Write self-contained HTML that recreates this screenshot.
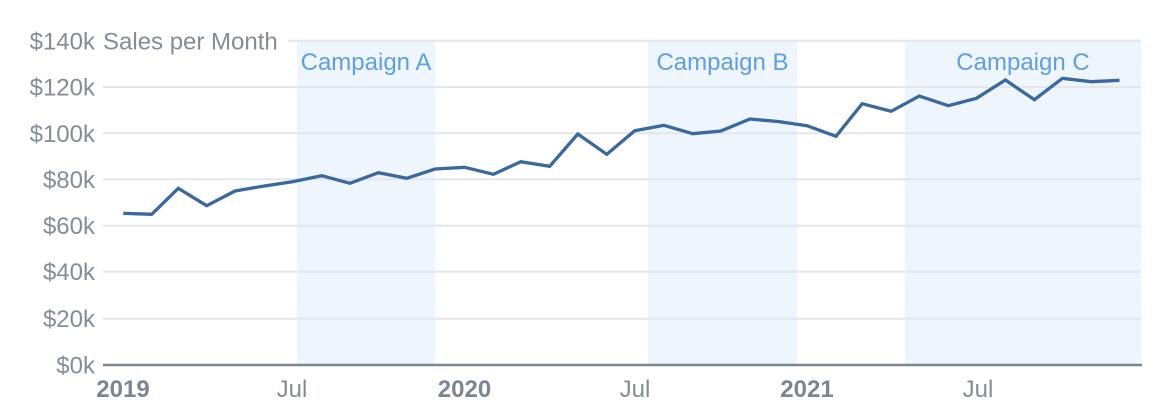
<!DOCTYPE html>
<html>
<head>
<meta charset="utf-8">
<style>
  html, body { margin: 0; padding: 0; background: #ffffff; }
  body { width: 1156px; height: 418px; overflow: hidden; }
  svg { display: block; }
  text { font-family: "Liberation Sans", Arial, sans-serif; }
</style>
</head>
<body>
<svg width="1156" height="418" viewBox="0 0 1156 418" xmlns="http://www.w3.org/2000/svg">
  <!-- campaign bands -->
  <rect x="297" y="41" width="138" height="324" fill="#eef5fc"/>
  <rect x="648" y="41" width="149" height="324" fill="#eef5fc"/>
  <rect x="905" y="41" width="236" height="324" fill="#eef5fc"/>

  <!-- gridlines -->
  <g stroke="#e4e6ea" stroke-width="2">
    <line x1="288" y1="40.7" x2="1141" y2="40.7"/>
    <line x1="103" y1="87" x2="1141" y2="87"/>
    <line x1="103" y1="133.3" x2="1141" y2="133.3"/>
    <line x1="103" y1="179.3" x2="1141" y2="179.3"/>
    <line x1="103" y1="225.7" x2="1141" y2="225.7"/>
    <line x1="103" y1="271.7" x2="1141" y2="271.7"/>
    <line x1="103" y1="318.7" x2="1141" y2="318.7"/>
  </g>
  <!-- x axis -->
  <line x1="103" y1="365" x2="1142" y2="365" stroke="#7d8593" stroke-width="2.5"/>

  <!-- y tick labels -->
  <g fill="#858c99" font-size="24" text-anchor="end">
    <text x="95" y="49.5">$140k</text>
    <text x="95" y="95.5">$120k</text>
    <text x="95" y="141.8">$100k</text>
    <text x="95" y="187.8">$80k</text>
    <text x="95" y="234.2">$60k</text>
    <text x="95" y="280.2">$40k</text>
    <text x="95" y="327.2">$20k</text>
    <text x="95" y="373.5">$0k</text>
  </g>
  <text x="103" y="49.5" fill="#858c99" font-size="24">Sales per Month</text>

  <!-- x tick labels -->
  <g font-size="24" text-anchor="middle">
    <text x="123" y="397" fill="#7d8593" font-weight="bold">2019</text>
    <text x="292" y="397" fill="#858c99">Jul</text>
    <text x="464.5" y="397" fill="#7d8593" font-weight="bold">2020</text>
    <text x="635" y="397" fill="#858c99">Jul</text>
    <text x="807" y="397" fill="#7d8593" font-weight="bold">2021</text>
    <text x="978" y="397" fill="#858c99">Jul</text>
  </g>

  <!-- campaign labels -->
  <g fill="#60a0e0" font-size="24" text-anchor="middle">
    <text x="366" y="70">Campaign A</text>
    <text x="722.5" y="70">Campaign B</text>
    <text x="1023" y="70">Campaign C</text>
  </g>

  <!-- series -->
  <polyline fill="none" stroke="#3a689f" stroke-width="3.3" stroke-linejoin="miter" stroke-miterlimit="4"
    points="123.3,213.3 151.7,214.3 178.3,188.3 206.7,205.7 235,191 264.3,186 292.4,181.7 321.7,175.7 350,183.3 378.3,172.7 406.7,178.3 435,169 464.5,167.3 493.5,174.3 520.7,161.7 549.7,166.3 577.8,134 606.8,154.3 634.8,130.7 663.8,125.3 692.8,133.7 720.9,131 749.9,119 778,121.5 807,125.7 836,136.3 862.2,103.7 891.2,111.3 919.3,96 948.3,105.7 976.4,98.3 1005.4,80 1034.4,99.7 1062.4,78.3 1091.4,81.7 1119.5,80.3"/>
</svg>
</body>
</html>
